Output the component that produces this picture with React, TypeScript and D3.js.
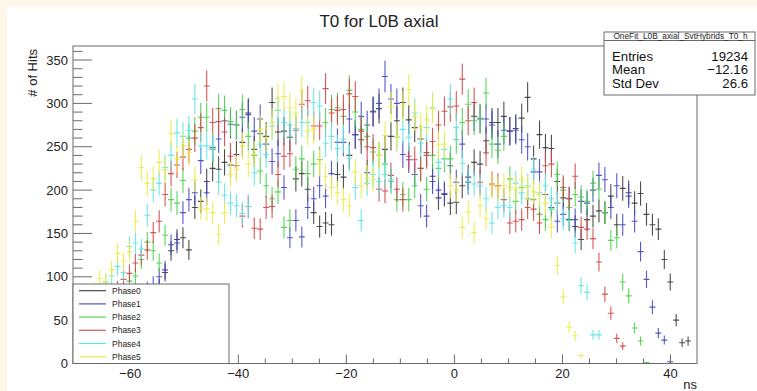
import React from "react";
import * as d3 from "d3";

// Histogram binning (ns)
const binLo = -70.6;
const binWidth = 1.1;
const nBins = 105;

const phaseNames = ["Phase0", "Phase1", "Phase2", "Phase3", "Phase4", "Phase5"];
const phaseColors = ["#3a3a3a", "#4646c4", "#48d248", "#d24646", "#5ce6e6", "#ecec40"];

// Counts per bin for each phase
const phase0 = [10, 12, 15, 18, 21, 25, 29, 34, 39, 45, 52, 60, 68, 78, 88, 105, 130, 143, 145, 131, 180, 187, 210, 225, 224, 232, 229, 241, 255, 289, 247, 265, 262, 301, 267, 268, 261, 213, 219, 201, 174, 158, 162, 160, 218, 215, 240, 264, 258, 220, 291, 294, 247, 262, 280, 301, 281, 272, 259, 243, 216, 191, 195, 185, 186, 205, 215, 232, 230, 257, 278, 278, 285, 268, 271, 283, 307, 236, 264, 249, 248, 210, 191, 166, 158, 143, 166, 170, 176, 174, 193, 160, 202, 197, 185, 196, 172, 160, 155, 120, 94, 50, 24, 26, 0];
const phase1 = [18, 22, 27, 31, 36, 41, 47, 52, 59, 64, 72, 78, 85, 91, 100, 108, 137, 139, 174, 189, 197, 234, 197, 249, 259, 280, 276, 275, 284, 287, 268, 282, 253, 233, 242, 203, 145, 165, 146, 180, 190, 205, 193, 219, 255, 255, 282, 264, 285, 275, 290, 300, 331, 305, 300, 241, 235, 218, 182, 170, 210, 200, 196, 228, 209, 253, 209, 285, 282, 282, 275, 253, 269, 268, 269, 258, 250, 221, 221, 195, 180, 164, 172, 190, 166, 187, 185, 200, 217, 212, 180, 205, 160, 193, 164, 129, 97, 65, 35, 27, 2, 0, 0, 0, 0];
const phase2 = [26, 31, 38, 44, 52, 59, 68, 77, 84, 95, 101, 120, 140, 130, 116, 148, 189, 185, 211, 260, 268, 284, 284, 247, 294, 292, 279, 275, 293, 262, 240, 222, 205, 190, 198, 157, 165, 224, 236, 219, 230, 235, 278, 293, 295, 285, 315, 290, 270, 262, 244, 240, 230, 210, 189, 195, 189, 205, 225, 201, 240, 225, 236, 236, 258, 278, 299, 280, 283, 312, 253, 246, 262, 213, 187, 203, 190, 189, 172, 166, 178, 218, 200, 180, 195, 192, 187, 208, 201, 174, 142, 145, 94, 78, 41, 26, 1, 0, 0, 0, 0, 0, 0, 0, 0];
const phase3 = [32, 38, 46, 55, 61, 70, 78, 86, 97, 104, 116, 125, 131, 151, 164, 195, 219, 229, 238, 247, 260, 272, 320, 278, 279, 267, 239, 228, 170, 181, 156, 155, 180, 181, 218, 239, 242, 269, 299, 303, 274, 274, 317, 289, 292, 293, 311, 308, 268, 250, 249, 201, 199, 217, 201, 189, 239, 235, 225, 240, 256, 275, 291, 296, 297, 328, 280, 301, 209, 243, 207, 205, 189, 162, 164, 166, 180, 178, 162, 228, 230, 185, 203, 190, 216, 157, 155, 144, 117, 80, 58, 29, 20, 0, 0, 0, 0, 0, 0, 0, 0, 0, 0, 0, 0];
const phase4 = [42, 50, 61, 70, 83, 94, 101, 112, 105, 135, 139, 132, 171, 200, 208, 226, 240, 266, 262, 269, 305, 251, 251, 250, 209, 194, 185, 182, 173, 181, 220, 253, 241, 274, 292, 278, 275, 271, 278, 278, 301, 297, 254, 262, 248, 259, 237, 203, 165, 208, 218, 210, 218, 212, 261, 270, 261, 289, 254, 272, 295, 232, 247, 305, 272, 231, 210, 207, 205, 190, 162, 180, 182, 180, 208, 197, 205, 224, 197, 205, 190, 185, 167, 165, 139, 90, 82, 33, 33, 0, 0, 0, 0, 0, 0, 0, 0, 0, 0, 0, 0, 0, 0, 0, 0];
const phase5 = [58, 66, 79, 85, 98, 94, 108, 127, 118, 129, 164, 226, 208, 213, 232, 223, 265, 236, 251, 243, 212, 179, 178, 174, 149, 174, 218, 224, 251, 230, 241, 270, 260, 278, 306, 308, 295, 289, 314, 268, 270, 231, 216, 203, 197, 189, 182, 221, 205, 214, 212, 240, 263, 296, 262, 297, 316, 285, 273, 281, 294, 252, 253, 205, 200, 157, 175, 151, 182, 167, 205, 201, 205, 203, 201, 212, 203, 198, 195, 185, 157, 113, 77, 42, 32, 9, 0, 0, 0, 0, 0, 0, 0, 0, 0, 0, 0, 0, 0, 0, 0, 0, 0, 0, 0];

const phases = [phase0, phase1, phase2, phase3, phase4, phase5];

const xMajorTicks = [-60, -40, -20, 0, 20, 40];
const yMajorTicks = [0, 50, 100, 150, 200, 250, 300, 350];

const statsTitle = "OneFit_L0B_axial_SvtHybrids_T0_h";
const statsRows: [string, string][] = [
  ["Entries", "19234"],
  ["Mean", "\u221212.16"],
  ["Std Dev", "26.6"],
];

const W = 757;
const H = 391;
const frame = { left: 73, right: 697, top: 46, bottom: 363.5 };
const font = "'Liberation Sans', Arial, Helvetica, sans-serif";
const axisColor = "#6a6a6a";

export default function App() {
  const x = d3.scaleLinear().domain([binLo, binLo + nBins * binWidth]).range([frame.left, frame.right]);
  const y = d3.scaleLinear().domain([0, 366.2]).range([frame.bottom, frame.top]);

  const xMinor = d3.range(-70, 45, 5).filter((t) => !xMajorTicks.includes(t));
  const yMinor = d3.range(0, 366, 10).filter((t) => !yMajorTicks.includes(t));

  const legend = { x0: 73, y0: 284, x1: 229, y1: frame.bottom };
  const stats = { x0: 604, y0: 32, x1: 755, y1: 95 };

  return (
    <svg
      width={W}
      height={H}
      style={{ position: "absolute", left: 0, top: 0, display: "block" }}
      fontFamily={font}
    >
      <defs>
        <clipPath id="frameClip">
          <rect x={frame.left} y={frame.top} width={frame.right - frame.left} height={frame.bottom - frame.top} />
        </clipPath>
      </defs>
      <rect x={0} y={0} width={W} height={H} fill="#fdf8e9" />
      <rect x={7} y={7} width={W - 7} height={H - 7} fill="#ffffff" />

      {/* title */}
      <text x={379} y={27} textAnchor="middle" fontSize={17} fill="#222">
        T0 for L0B axial
      </text>

      {/* error-bar crosses */}
      <g clipPath="url(#frameClip)">
        {phases.map((vals, k) => (
          <g key={k} stroke={phaseColors[k]} strokeWidth={1.1} strokeOpacity={0.9}>
            {vals.map((v, i) => {
              if (v <= 0) return null;
              const e = Math.sqrt(v);
              const xl = x(binLo + i * binWidth);
              const xr = x(binLo + (i + 1) * binWidth);
              const xc = (xl + xr) / 2;
              return (
                <g key={i}>
                  <line x1={xl} x2={xr} y1={y(v)} y2={y(v)} />
                  <line x1={xc} x2={xc} y1={y(v - e)} y2={y(v + e)} />
                </g>
              );
            })}
          </g>
        ))}
      </g>

      {/* frame */}
      <rect
        x={frame.left}
        y={frame.top}
        width={frame.right - frame.left}
        height={frame.bottom - frame.top}
        fill="none"
        stroke={axisColor}
        strokeWidth={1}
      />

      {/* y axis ticks */}
      {yMajorTicks.map((t) => (
        <g key={"ym" + t}>
          <line x1={frame.left} x2={frame.left + 19} y1={y(t)} y2={y(t)} stroke={axisColor} />
          <text x={68} y={y(t) + 4.5} textAnchor="end" fontSize={13} fill="#222">
            {t}
          </text>
        </g>
      ))}
      {yMinor.map((t) => (
        <line key={"yn" + t} x1={frame.left} x2={frame.left + 9.5} y1={y(t)} y2={y(t)} stroke={axisColor} />
      ))}

      {/* x axis ticks */}
      {xMajorTicks.map((t) => (
        <g key={"xm" + t}>
          <line x1={x(t)} x2={x(t)} y1={frame.bottom} y2={frame.bottom - 9} stroke={axisColor} />
          <text x={x(t)} y={377.5} textAnchor="middle" fontSize={13} fill="#222">
            {t < 0 ? "\u2212" + Math.abs(t) : t}
          </text>
        </g>
      ))}
      {xMinor.map((t) => (
        <line key={"xn" + t} x1={x(t)} x2={x(t)} y1={frame.bottom} y2={frame.bottom - 5} stroke={axisColor} />
      ))}

      {/* axis titles */}
      <text x={frame.right} y={388.5} textAnchor="end" fontSize={13} fill="#222">
        ns
      </text>
      <text transform={`translate(37,${frame.top + 3}) rotate(-90)`} textAnchor="end" fontSize={13} fill="#222">
        # of Hits
      </text>

      {/* legend */}
      <rect
        x={legend.x0}
        y={legend.y0}
        width={legend.x1 - legend.x0}
        height={legend.y1 - legend.y0}
        fill="#fff"
        stroke={axisColor}
      />
      {phaseNames.map((name, k) => {
        const cy = 290.7 + k * 13.2;
        return (
          <g key={name}>
            <line x1={79} x2={106} y1={cy} y2={cy} stroke={phaseColors[k]} strokeWidth={1.1} />
            <text x={112} y={cy + 3} fontSize={8.5} fill="#222">
              {name}
            </text>
          </g>
        );
      })}

      {/* statistics box */}
      <rect
        x={stats.x0}
        y={stats.y0}
        width={stats.x1 - stats.x0}
        height={stats.y1 - stats.y0}
        fill="#fff"
        stroke={axisColor}
      />
      <line x1={stats.x0} x2={stats.x1} y1={40.5} y2={40.5} stroke={axisColor} />
      <text x={(stats.x0 + stats.x1) / 2 + 1} y={38.6} textAnchor="middle" fontSize={8.3} fill="#222">
        {statsTitle}
      </text>
      {statsRows.map(([label, val], r) => (
        <g key={label}>
          <text x={612} y={60.5 + r * 13.6} fontSize={13.2} fill="#111">
            {label}
          </text>
          <text x={748} y={60.5 + r * 13.6} textAnchor="end" fontSize={13.2} fill="#111">
            {val}
          </text>
        </g>
      ))}
    </svg>
  );
}
